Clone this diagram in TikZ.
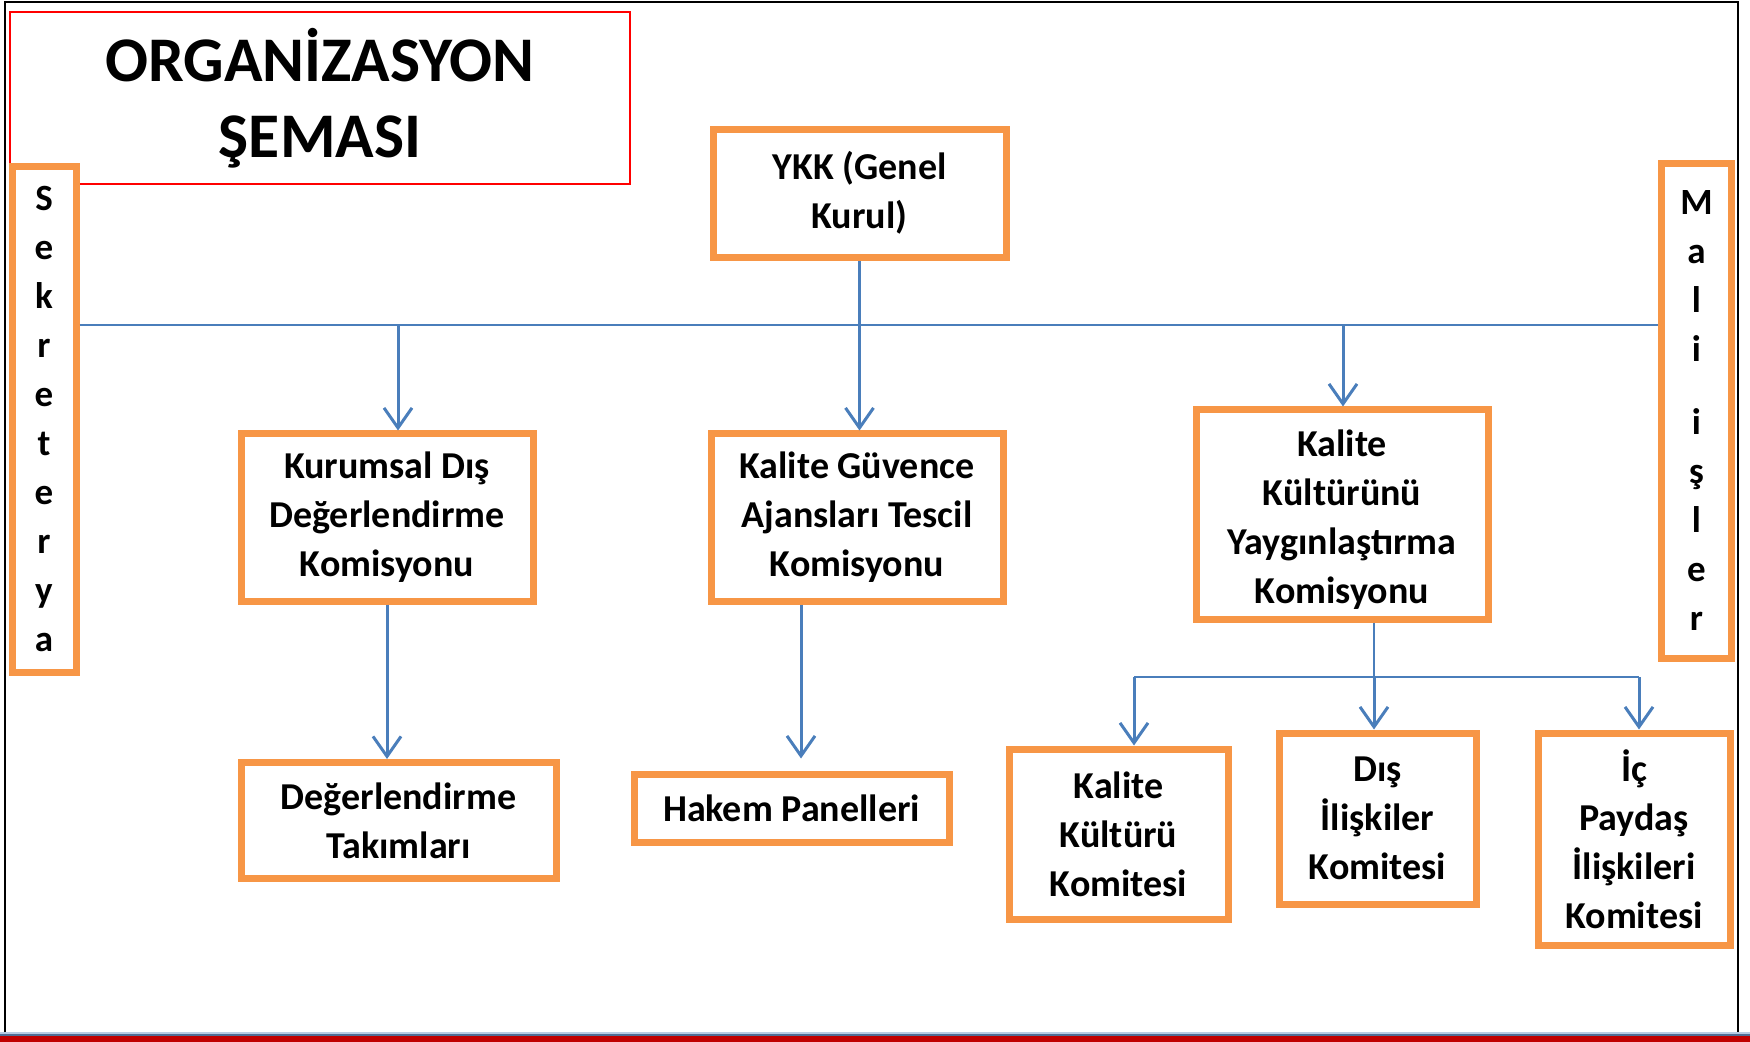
\documentclass[tikz,border=0pt]{standalone}
\usepackage{fontspec}
\setmainfont{Carlito}
\usetikzlibrary{arrows.meta}
\definecolor{obox}{HTML}{F79646}
\definecolor{bline}{HTML}{4A7EBB}
\definecolor{tred}{HTML}{FF0000}
\definecolor{dred}{HTML}{C00000}
\definecolor{bandblue}{HTML}{4F6F96}
\definecolor{bandlight}{HTML}{B8CCE4}
\newcommand\orgboxfont{\fontsize{19}{24.5}\selectfont\bfseries}
\newcommand\orgtitlefont{\fontsize{31.8}{38}\selectfont\bfseries}
\newcommand\orgletterfont{\fontsize{18.5}{24.5}\selectfont\bfseries}
\begin{document}
\begin{tikzpicture}[x=0.5pt,y=-0.5pt,
  box/.style={draw=obox,line width=3.5pt,fill=white,inner sep=0pt,align=center,font=\orgboxfont},
  sidebox/.style={draw=obox,line width=3.5pt,fill=white,inner sep=0pt,align=center,font=\orgletterfont},
  titlebox/.style={draw=tred,line width=1.2pt,inner sep=0pt,align=center,font=\orgtitlefont},
  conn/.style={draw=bline,line width=1.3pt},
  busline/.style={draw=bline,line width=1pt},
  arr/.style={draw=bline,line width=1.5pt,-{Straight Barb[length=10pt,width=14pt]}}]
\useasboundingbox (0,0) rectangle (1750,1042);
% frame and bottom band
\fill[dred] (0,1036) rectangle (1750,1042);
\fill[bandblue] (0,1033.5) rectangle (1750,1036);
\fill[bandlight] (0,1032) rectangle (1750,1033.5);
\draw[black,line width=1pt] (5,1032) -- (5,2) -- (1738,2) -- (1738,1032);
% title
\node[titlebox,minimum width=310pt,minimum height=86pt] (title) at (320,98) {ORGANİZASYON\\ŞEMASI};
% side boxes
\node[sidebox,minimum width=32pt,minimum height=253pt] (sek) at (44,419.5) {S\\e\\k\\r\\e\\t\\e\\r\\y\\a};
\node[sidebox,minimum width=35pt,minimum height=247pt] (mali) at (1696.5,411) {M\\a\\l\\i\\[12pt]i\\ş\\l\\e\\r};
% main boxes
\node[box,minimum width=146.5pt,minimum height=64pt] (ykk) at (859.5,194) {YKK (Genel\\Kurul)\\[-20pt]\mbox{}};
\node[box,minimum width=146pt,minimum height=83.5pt] (kdd) at (387,517.5) {Kurumsal Dış\\Değerlendirme\\Komisyonu};
\node[box,minimum width=146pt,minimum height=83.5pt] (kgac) at (857,517.5) {Kalite Güvence\\Ajansları Tescil\\Komisyonu};
\node[box,minimum width=146pt,minimum height=104.5pt] (kkyk) at (1342,514.5) {\rule{0pt}{18.5pt}Kalite\\Kültürünü\\Yaygınlaştırma\\Komisyonu};
\node[box,minimum width=157.5pt,minimum height=58pt] (dt) at (398.5,820.5) {Değerlendirme\\Takımları};
\node[box,minimum width=157.5pt,minimum height=34pt] (hp) at (791.5,808) {Hakem Panelleri};
\node[box,minimum width=109.5pt,minimum height=85pt] (kkk) at (1118.5,834) {Kalite\\Kültürü\\Komitesi};
\node[box,minimum width=98.5pt,minimum height=85.5pt] (dis) at (1377.5,818.5) {Dış\\İlişkiler\\Komitesi};
\node[box,minimum width=96pt,minimum height=106pt] (ic) at (1634,839) {İç\\Paydaş\\İlişkileri\\Komitesi};
% bus
\coordinate (bus) at (0,325);
\coordinate (b1) at (398,325);
\coordinate (b2) at (1343,325);
\draw[busline] (sek.east |- bus) -- (mali.west |- bus);
\draw[arr] (ykk.south) -- (ykk.south |- kgac.north);
\draw[arr] (b1) -- (b1 |- kdd.north);
\draw[arr] (b2) -- (b2 |- kkyk.north);
% second level
\draw[arr] (kdd.south) -- (kdd.south |- dt.north);
\draw[arr,shorten >=6pt] ([xshift=-28pt]kgac.south) -- ([xshift=-28pt]kgac.south |- hp.north);
% third level
\coordinate (j) at (1374,677);
\coordinate (jl) at (1134,677);
\coordinate (jr) at (1639,677);
\draw[conn] (kkyk.south -| j) -- (j);
\draw[conn] (jl) -- (jr);
\draw[arr] (jl) -- (jl |- kkk.north);
\draw[arr] (j) -- (j |- dis.north);
\draw[arr] (jr) -- (jr |- ic.north);
\end{tikzpicture}
\end{document}
